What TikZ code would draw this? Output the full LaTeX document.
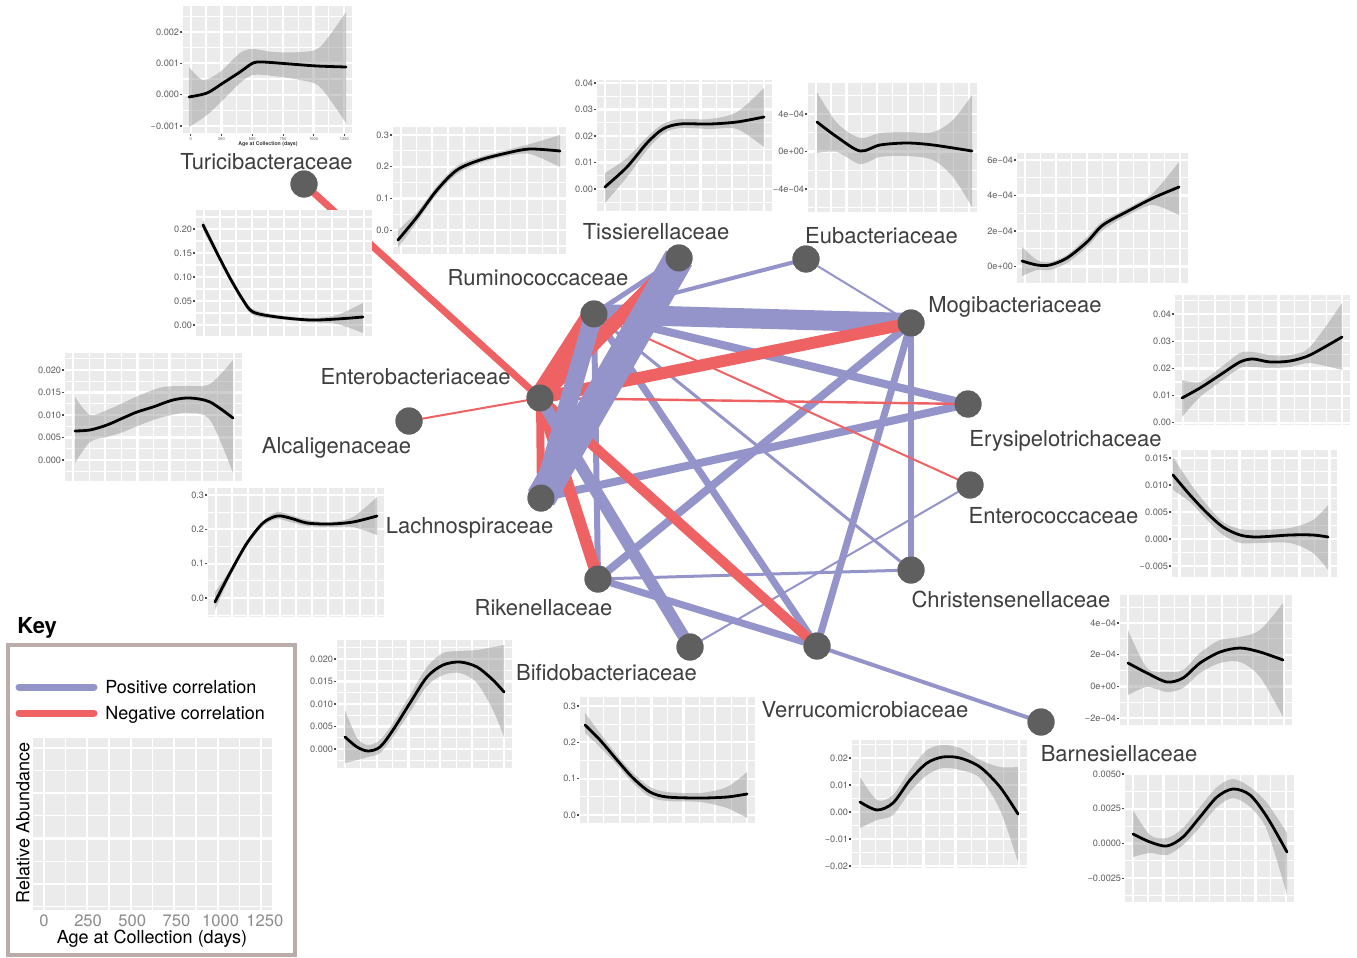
\documentclass[tikz,border=0pt]{standalone}
\usepackage{fontspec}
\setmainfont{TeX Gyre Heros}
\definecolor{cpos}{RGB}{148,148,202}
\definecolor{cneg}{RGB}{238,98,100}
\definecolor{ngray}{RGB}{95,95,95}
\definecolor{labc}{RGB}{62,62,62}
\definecolor{pbg}{RGB}{235,235,235}
\definecolor{tickc}{RGB}{95,95,95}
\definecolor{keyb}{RGB}{185,172,170}
\definecolor{keytick}{RGB}{140,140,140}

\newcommand\ggbg[6]{%
  \fill[pbg] (#1,#2) rectangle (#3,#4);
  \begin{scope}
    \clip (#1,#2) rectangle (#3,#4);
    \foreach \t in {125,375,625,875,1125}{\pgfmathsetmacro\xx{#1+(#3-#1)/1375*(\t+62.5)}\draw[gmin] (\xx,#2) -- (\xx,#4);}
    \foreach \k in {-4,...,8}{\pgfmathsetmacro\yy{#5+(\k+0.5)*#6}\draw[gmin] (#1,\yy) -- (#3,\yy);}
    \foreach \t in {0,250,...,1250}{\pgfmathsetmacro\xx{#1+(#3-#1)/1375*(\t+62.5)}\draw[gmaj] (\xx,#2) -- (\xx,#4);}
    \foreach \k in {-4,...,8}{\pgfmathsetmacro\yy{#5+(\k)*#6}\draw[gmaj] (#1,\yy) -- (#3,\yy);}
  \end{scope}}

\newcommand\ggticks[4]{%
  \foreach \lab [count=\i from 0] in {#4}{%
    \pgfmathsetmacro\yy{#2+\i*#3}%
    \node[ticklab,anchor=east] at (#1-3.5,\yy) {\lab};
    \draw[tickm] (#1-3,\yy) -- (#1-1,\yy);}}

\newcommand\ggdata[7]{%
  \begin{scope}
    \clip (#1,#2) rectangle (#3,#4);
    \fill[ggband] plot[smooth] coordinates {#5} -- plot[smooth] coordinates {#6} -- cycle;
    \draw[ggcurve] plot[smooth] coordinates {#7};
  \end{scope}}

\begin{document}
\begin{tikzpicture}[x=0.5pt,y=-0.5pt,
  gmaj/.style={white,line width=1.1pt},
  gmin/.style={white,line width=0.55pt},
  ggcurve/.style={black,line width=1.4pt,line join=round,line cap=round},
  ggband/.style={fill={rgb,255:red,140;green,140;blue,140},fill opacity=0.42},
  ticklab/.style={font=\fontsize{4.6}{5}\selectfont,text=tickc,inner sep=0pt},
  tickm/.style={black!70,line width=0.6pt},
  vert/.style={circle,fill=ngray,inner sep=0pt,minimum size=13.5pt},
  lab/.style={font=\fontsize{11}{13}\selectfont,text=labc,inner sep=0pt,anchor=base},
  pe/.style={cpos,line width=#1},
  ne/.style={cneg,line width=#1},
]
\fill[white] (0,0) rectangle (1357,958);
\useasboundingbox (0,0) rectangle (1357,958);

% ---------- network nodes ----------
\node[vert] (turi) at (304,184) {};
\node[vert] (tiss) at (679,258) {};
\node[vert] (euba) at (806,259) {};
\node[vert] (rumi) at (594,314) {};
\node[vert] (mogi) at (911,323) {};
\node[vert] (entb) at (540,398) {};
\node[vert] (alca) at (409,421) {};
\node[vert] (erys) at (968,404) {};
\node[vert] (entc) at (970,485) {};
\node[vert] (lach) at (541,498) {};
\node[vert] (rike) at (598,579) {};
\node[vert] (chri) at (911,570) {};
\node[vert] (bifi) at (690,647) {};
\node[vert] (verr) at (817,646) {};
\node[vert] (barn) at (1041,722) {};

% ---------- edges ----------
\draw[pe=2] (rumi.center) -- (euba.center);
\draw[pe=1] (euba.center) -- (mogi.center);
\draw[pe=10] (rumi.center) -- (mogi.center);
\draw[pe=4] (rumi.center) -- (erys.center);
\draw[pe=4] (lach.center) -- (erys.center);
\draw[pe=4] (mogi.center) -- (rike.center);
\draw[pe=3.5] (mogi.center) -- (verr.center);
\draw[pe=3] (mogi.center) -- (chri.center);
\draw[pe=1.5] (rumi.center) -- (chri.center);
\draw[pe=3.5] (rumi.center) -- (verr.center);
\draw[pe=3] (rumi.center) -- (rike.center);
\draw[pe=1.5] (rike.center) -- (chri.center);
\draw[pe=3.5] (rike.center) -- (verr.center);
\draw[pe=1] (bifi.center) -- (entc.center);
\draw[pe=2] (verr.center) -- (barn.center);
\draw[pe=2.5] (tiss.center) -- (rumi.center);
\draw[ne=3.5] (turi.center) -- (entb.center);
\draw[ne=1] (alca.center) -- (entb.center);
\draw[ne=11] (entb.center) -- (rumi.center);
\draw[ne=7] (entb.center) -- (tiss.center);
\draw[ne=6] (entb.center) -- (mogi.center);
\draw[ne=1.2] (entb.center) -- (erys.center);
\draw[ne=1] (rumi.center) -- (entc.center);
\draw[ne=6] (entb.center) -- (rike.center);
\draw[ne=5] (entb.center) -- (verr.center);
\draw[ne=4] (entb.center) -- (lach.center);
\draw[pe=6] (entb.center) -- (bifi.center);
\draw[pe=9] (lach.center) -- (rumi.center);
\draw[pe=15] (lach.center) -- (tiss.center);

% ---------- mini plots ----------
% P1 Turicibacteraceae
\ggbg{183}{6}{352}{133}{32}{31.3}
\ggticks{183}{32}{31.3}{0.002,0.001,0.000,−0.001}
\ggdata{183}{6}{352}{133}
 {(189,67) (203,80) (220,72) (240,53) (253,49) (273,52) (300,52) (320,47) (346,12)}
 {(346,123) (320,87) (300,80) (273,76) (253,75) (240,83) (223,100) (207,115) (189,127)}
 {(189,97) (207,93) (223,83) (240,72) (253,63) (263,62) (290,64) (317,66) (346,67)}
\foreach \t/\xl in {0/190.7,250/221.5,500/252.2,750/283,1000/313.7,1250/344.4}{
  \draw[black!70,line width=0.4pt] (\xl,134) -- (\xl,136);
  \node[font=\fontsize{2}{2}\selectfont,text=tickc,inner sep=0pt] at (\xl,139) {\t};}
\node[font=\fontsize{2.6}{3}\selectfont\bfseries,text=black!80,inner sep=0pt] (turiax) at (268,144) {Age at Collection (days)};

% P2 Ruminococcaceae
\ggbg{393}{127}{566}{254}{135}{31.7}
\ggticks{393}{135}{31.7}{0.3,0.2,0.1,0.0}
\ggdata{393}{127}{566}{254}
 {(398,230) (417,212) (437,186) (457,166) (480,157) (507,150) (530,144) (560,135)}
 {(560,167) (530,154) (507,156) (480,163) (457,174) (437,194) (417,222) (398,248)}
 {(398,240) (417,217) (437,190) (457,170) (480,160) (507,153) (530,149) (560,151)}

% P3 Tissierellaceae
\ggbg{597}{80}{772}{211}{83}{26.5}
\ggticks{597}{83}{26.5}{0.04,0.03,0.02,0.01,0.00}
\ggdata{597}{80}{772}{211}
 {(605,173) (627,158) (647,137) (663,124) (680,119) (710,119) (737,112) (764,88)}
 {(764,147) (737,129) (710,129) (680,128) (663,134) (647,150) (627,177) (605,203)}
 {(605,187) (627,167) (647,143) (663,129) (680,124) (710,124) (737,122) (764,117)}

% P4 Eubacteriaceae
\ggbg{808}{83}{977}{212}{114}{37.5}
\ggticks{808}{114}{37.5}{4e−04,0e+00,−4e−04}
\ggdata{808}{83}{977}{212}
 {(817,92) (837,123) (860,138) (880,133) (907,132) (933,132) (953,120) (972,95)}
 {(972,207) (953,177) (933,160) (907,156) (880,157) (860,164) (837,152) (817,153)}
 {(817,122) (837,137) (860,151) (880,145) (907,143) (933,145) (972,151)}

% P5 Mogibacteriaceae
\ggbg{1017}{153}{1188}{283}{160}{35.5}
\ggticks{1017}{160}{35.5}{6e−04,4e−04,2e−04,0e+00}
\ggdata{1017}{153}{1188}{283}
 {(1022,247) (1037,260) (1050,262) (1067,255) (1087,237) (1103,221) (1130,207) (1153,193) (1179,162)}
 {(1179,215) (1153,205) (1130,214) (1103,230) (1087,247) (1067,263) (1050,270) (1037,270) (1022,276)}
 {(1022,261) (1037,265) (1050,265) (1067,258) (1087,242) (1103,225) (1130,210) (1153,198) (1179,187)}

% P6 Enterobacteriaceae
\ggbg{196}{210}{372}{338}{229}{24}
\ggticks{196}{229}{24}{0.20,0.15,0.10,0.05,0.00}
\ggdata{196}{210}{372}{338}
 {(203,220) (217,250) (230,275) (243,297) (253,309) (277,315) (310,318) (337,315) (363,303)}
 {(363,333) (337,324) (310,322) (277,319) (253,315) (243,303) (230,281) (217,256) (203,230)}
 {(203,225) (217,253) (230,278) (243,300) (253,312) (277,317) (310,320) (337,319) (363,317)}

% P7 Alcaligenaceae
\ggbg{65}{353}{242}{482}{370}{22.5}
\ggticks{65}{370}{22.5}{0.020,0.015,0.010,0.005,0.000}
\ggdata{65}{353}{242}{482}
 {(75,397) (90,415) (107,410) (123,403) (140,395) (163,387) (187,386) (210,384) (233,360)}
 {(233,473) (210,420) (187,413) (163,417) (140,425) (123,432) (107,437) (90,442) (75,463)}
 {(75,431) (90,430) (107,425) (123,418) (137,412) (153,407) (173,400) (190,398) (210,402) (233,418)}

% P8 Erysipelotrichaceae
\ggbg{1175}{295}{1350}{425}{314}{27.2}
\ggticks{1175}{314}{27.2}{0.04,0.03,0.02,0.01,0.00}
\ggdata{1175}{295}{1350}{425}
 {(1182,380) (1200,382) (1220,368) (1240,353) (1253,352) (1270,355) (1290,355) (1310,347) (1342,303)}
 {(1342,370) (1310,363) (1290,367) (1270,368) (1253,367) (1240,368) (1220,382) (1200,397) (1182,417)}
 {(1182,398) (1200,388) (1220,375) (1240,362) (1253,359) (1270,362) (1290,361) (1310,355) (1342,337)}

% P9 Enterococcaceae
\ggbg{1172}{450}{1337}{577}{458}{27}
\ggticks{1172}{458}{27}{0.015,0.010,0.005,0.000,−0.005}
\ggdata{1172}{450}{1337}{577}
 {(1173,457) (1190,483) (1207,505) (1223,522) (1240,529) (1257,530) (1290,528) (1313,520) (1328,505)}
 {(1328,570) (1313,553) (1290,543) (1257,543) (1240,543) (1223,535) (1207,520) (1190,502) (1173,490)}
 {(1173,475) (1190,495) (1207,513) (1223,527) (1240,535) (1257,537) (1290,535) (1313,535) (1328,537)}

% P10 Lachnospiraceae
\ggbg{208}{488}{384}{617}{495}{34.3}
\ggticks{208}{495}{34.3}{0.3,0.2,0.1,0.0}
\ggdata{208}{488}{384}{617}
 {(215,592) (230,570) (247,541) (263,521) (277,512) (290,515) (307,520) (330,522) (353,517) (377,497)}
 {(377,535) (353,527) (330,527) (307,526) (290,522) (277,519) (263,526) (247,546) (230,577) (215,610)}
 {(215,602) (230,573) (247,543) (263,523) (277,516) (290,518) (307,523) (330,524) (353,522) (377,516)}

% P11 Rikenellaceae
\ggbg{337}{640}{512}{768}{659}{22.5}
\ggticks{337}{659}{22.5}{0.020,0.015,0.010,0.005,0.000}
\ggdata{337}{640}{512}{768}
 {(345,710) (357,738) (368,745) (380,740) (393,723) (410,695) (427,667) (443,653) (460,651) (477,650) (493,647) (504,645)}
 {(504,737) (493,710) (477,683) (460,673) (443,675) (427,686) (410,712) (393,737) (380,753) (368,757) (357,760) (345,763)}
 {(345,737) (357,747) (368,751) (380,747) (393,730) (410,703) (427,677) (443,665) (460,662) (477,667) (493,680) (504,692)}

% P12 Bifidobacteriaceae
\ggbg{580}{697}{755}{823}{706}{36.3}
\ggticks{580}{706}{36.3}{0.3,0.2,0.1,0.0}
\ggdata{580}{697}{755}{823}
 {(585,713) (600,733) (617,755) (633,773) (650,787) (667,792) (700,793) (727,787) (747,772)}
 {(747,818) (727,808) (700,802) (667,801) (650,797) (633,783) (617,765) (600,747) (585,733)}
 {(585,725) (600,740) (617,760) (633,778) (650,792) (667,797) (700,798) (727,797) (747,794)}

% P13 Verrucomicrobiaceae
\ggbg{852}{740}{1027}{868}{758}{27}
\ggticks{852}{758}{27}{0.02,0.01,0.00,−0.01,−0.02}
\ggdata{852}{740}{1027}{868}
 {(860,777) (877,800) (893,795) (910,770) (927,750) (943,745) (960,748) (980,760) (1000,767) (1018,767)}
 {(1018,862) (1000,810) (980,778) (960,770) (943,768) (927,775) (910,792) (893,815) (877,820) (860,828)}
 {(860,802) (877,810) (893,803) (910,780) (927,763) (943,757) (960,758) (980,767) (1000,787) (1018,814)}

% P14 Christensenellaceae
\ggbg{1120}{595}{1292}{725}{623}{31.7}
\ggticks{1120}{623}{31.7}{4e−04,2e−04,0e+00,−2e−04}
\ggdata{1120}{595}{1292}{725}
 {(1128,630) (1147,668) (1167,672) (1183,670) (1200,653) (1220,640) (1240,637) (1260,630) (1283,603)}
 {(1283,717) (1260,677) (1240,662) (1220,663) (1200,673) (1183,688) (1167,692) (1147,687) (1128,695)}
 {(1128,663) (1147,673) (1167,682) (1183,678) (1200,663) (1220,652) (1240,648) (1260,652) (1283,660)}

% P15 Barnesiellaceae
\ggbg{1125}{773}{1294}{902}{774}{34.7}
\ggticks{1125}{774}{34.7}{0.0050,0.0025,0.0000,−0.0025}
\ggdata{1125}{773}{1294}{902}
 {(1133,810) (1150,835) (1167,838) (1183,828) (1200,807) (1217,787) (1233,779) (1250,787) (1267,803) (1287,833)}
 {(1287,895) (1267,830) (1250,807) (1233,798) (1217,807) (1200,827) (1183,845) (1167,855) (1150,853) (1133,857)}
 {(1133,834) (1150,842) (1167,846) (1183,837) (1200,817) (1217,797) (1233,789) (1250,795) (1267,817) (1287,852)}

% node discs on top of edges
\foreach \n in {turi,tiss,euba,rumi,mogi,entb,alca,erys,entc,lach,rike,chri,bifi,verr,barn}
  \fill[ngray] (\n.center) circle[radius=6.75pt];

% ---------- node labels ----------
\node[lab] (lturi) at (266.5,169) {Turicibacteraceae};
\node[lab] (ltiss) at (656,239) {Tissierellaceae};
\node[lab] (leuba) at (881.5,243) {Eubacteriaceae};
\node[lab] (lrumi) at (538,285) {Ruminococcaceae};
\node[lab] (lmogi) at (1015,312) {Mogibacteriaceae};
\node[lab] (lentb) at (415.5,384) {Enterobacteriaceae};
\node[lab] (lalca) at (336.5,453) {Alcaligenaceae};
\node[lab] (lerys) at (1065.5,446) {Erysipelotrichaceae};
\node[lab] (lentc) at (1053.5,523) {Enterococcaceae};
\node[lab] (llach) at (469.5,533) {Lachnospiraceae};
\node[lab] (lrike) at (543.5,615) {Rikenellaceae};
\node[lab] (lchri) at (1011,607) {Christensenellaceae};
\node[lab] (lbifi) at (606.5,680) {Bifidobacteriaceae};
\node[lab] (lverr) at (865,717) {Verrucomicrobiaceae};
\node[lab] (lbarn) at (1119,761) {Barnesiellaceae};

% ---------- key ----------
\node[font=\fontsize{11}{13}\selectfont\bfseries,anchor=base west,inner sep=0pt] (keyt) at (17,633) {Key};
\draw[keyb,line width=2pt] (8,645) rectangle (295,955);
\coordinate (kp1) at (19,687); \coordinate (kp2) at (94,687);
\coordinate (kn1) at (19,713); \coordinate (kn2) at (94,713);
\draw[cpos,line width=3.5pt,line cap=round] (kp1) -- (kp2);
\draw[cneg,line width=3.5pt,line cap=round] (kn1) -- (kn2);
\node[font=\fontsize{9}{11}\selectfont,anchor=base west,inner sep=0pt] (kpt) at (105,693) {Positive correlation};
\node[font=\fontsize{9}{11}\selectfont,anchor=base west,inner sep=0pt] (knt) at (105,719) {Negative correlation};
\ggbg{33}{738}{272}{910}{793}{45.4}
\foreach \t [count=\i from 0] in {0,250,500,750,1000,1250}{
  \node[font=\fontsize{8.3}{10}\selectfont,text=keytick,anchor=base,inner sep=0pt] at (43.9+44.2*\i,926) {\t};}
\node[font=\fontsize{9}{11}\selectfont,anchor=base,inner sep=0pt] (kxl) at (152,943) {Age at Collection (days)};
\node[font=\fontsize{9}{11}\selectfont,rotate=90,inner sep=0pt] (kyl) at (23,823) {Relative Abundance};
\end{tikzpicture}
\end{document}
